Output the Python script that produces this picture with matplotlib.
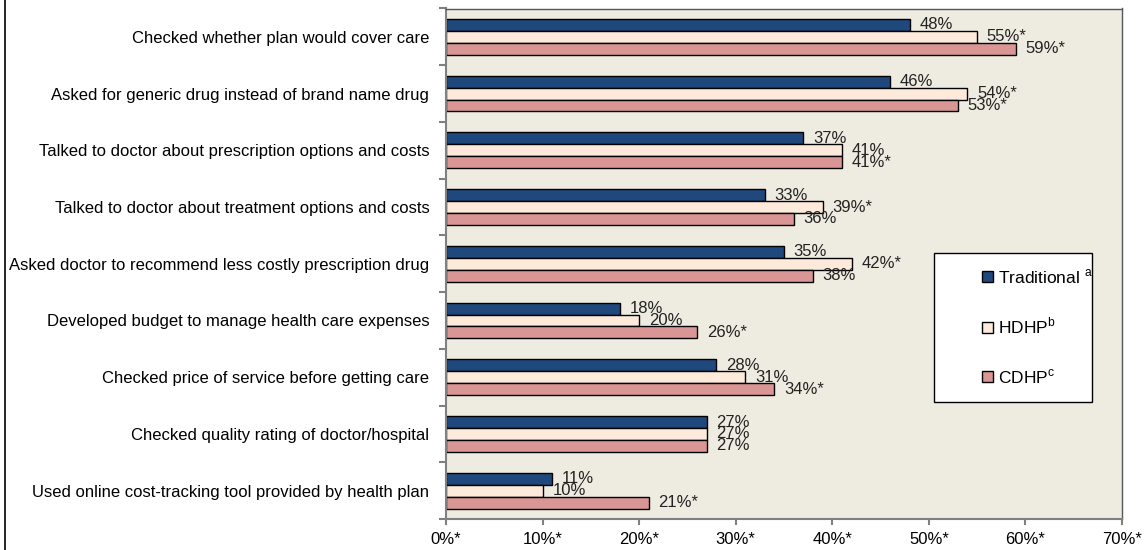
import numpy as np
import matplotlib
matplotlib.use("Agg")
import matplotlib.pyplot as plt
from matplotlib.patches import Rectangle, Patch
from matplotlib.lines import Line2D

plt.rcParams['font.family'] = ['Liberation Sans', 'DejaVu Sans']
plt.rcParams['mathtext.fontset'] = 'custom'
plt.rcParams['mathtext.rm'] = 'Liberation Sans'

# data
categories = [
    "Checked whether plan would cover care",
    "Asked for generic drug instead of brand name drug",
    "Talked to doctor about prescription options and costs",
    "Talked to doctor about treatment options and costs",
    "Asked doctor to recommend less costly prescription drug",
    "Developed budget to manage health care expenses",
    "Checked price of service before getting care",
    "Checked quality rating of doctor/hospital",
    "Used online cost-tracking tool provided by health plan",
]
traditional = [48, 46, 37, 33, 35, 18, 28, 27, 11]
hdhp = [55, 54, 41, 39, 42, 20, 31, 27, 10]
cdhp = [59, 53, 41, 36, 38, 26, 34, 27, 21]
trad_sig = ["", "", "", "", "", "", "", "", ""]
hdhp_sig = ["*", "*", "", "*", "*", "", "", "", ""]
cdhp_sig = ["*", "*", "*", "", "", "*", "*", "", "*"]
xtick_vals = [0, 10, 20, 30, 40, 50, 60, 70]
xtick_labels = ["0%*", "10%*", "20%*", "30%*", "40%*", "50%*", "60%*", "70%*"]

series = [
    ("Traditional $^{\\mathrm{a}}$", traditional, trad_sig, "#1F497D"),
    ("HDHP$^{\\mathrm{b}}$", hdhp, hdhp_sig, "#FDEADA"),
    ("CDHP$^{\\mathrm{c}}$", cdhp, cdhp_sig, "#D99694"),
]

fig = plt.figure(figsize=(11.46, 5.5), dpi=100)
ax = fig.add_axes([446 / 1146, 1 - 519 / 550, 676 / 1146, 510.5 / 550])
ax.set_facecolor("#EEECE1")

y = np.arange(len(categories))
h = 0.21
handles = []
for i, (name, vals, sig, col) in enumerate(series):
    bars = ax.barh(y + (i - 1) * h, vals, height=h, color=col,
                   edgecolor="black", linewidth=1, zorder=2)
    labels = [f"{v}%{s}" for v, s in zip(vals, sig)]
    ax.bar_label(bars, labels=labels, padding=7, fontsize=12, color="#222222")
    handles.append(Patch(facecolor=col, edgecolor="black", linewidth=1, label=name))

ax.set_xlim(0, 70)
ax.set_ylim(len(categories) - 0.5, -0.5)
ax.set_xticks(xtick_vals)
ax.set_xticklabels(xtick_labels, fontsize=12)
ax.set_yticks(y)
ax.set_yticklabels(categories, fontsize=12)
ax.set_yticks(np.arange(-0.5, len(categories)), minor=True)
ax.tick_params(axis="y", which="major", length=0, pad=12)
ax.tick_params(axis="y", which="minor", length=5, color="#808080", width=1.5)
ax.tick_params(axis="x", length=4, color="#808080", width=1.5, pad=5)

for side in ["left", "bottom"]:
    ax.spines[side].set_color("#808080")
    ax.spines[side].set_linewidth(1.5)
for side in ["top", "right"]:
    ax.spines[side].set_color("#555555")
    ax.spines[side].set_linewidth(1)

# legend box
ax.add_patch(Rectangle((0.722, 0.229), 0.234, 0.292, transform=ax.transAxes,
                       facecolor="white", edgecolor="black", linewidth=1, zorder=3))
leg = ax.legend(handles=handles, loc="center left", bbox_to_anchor=(0.77, 0.377),
                frameon=False, fontsize=12.5, handlelength=0.6, handleheight=0.6,
                handletextpad=0.3, labelspacing=1.75)
leg.set_zorder(4)

fig.add_artist(Line2D([5 / 1146, 5 / 1146], [0, 1], color="black", linewidth=1.2))

fig.savefig("out.png", dpi=100)
